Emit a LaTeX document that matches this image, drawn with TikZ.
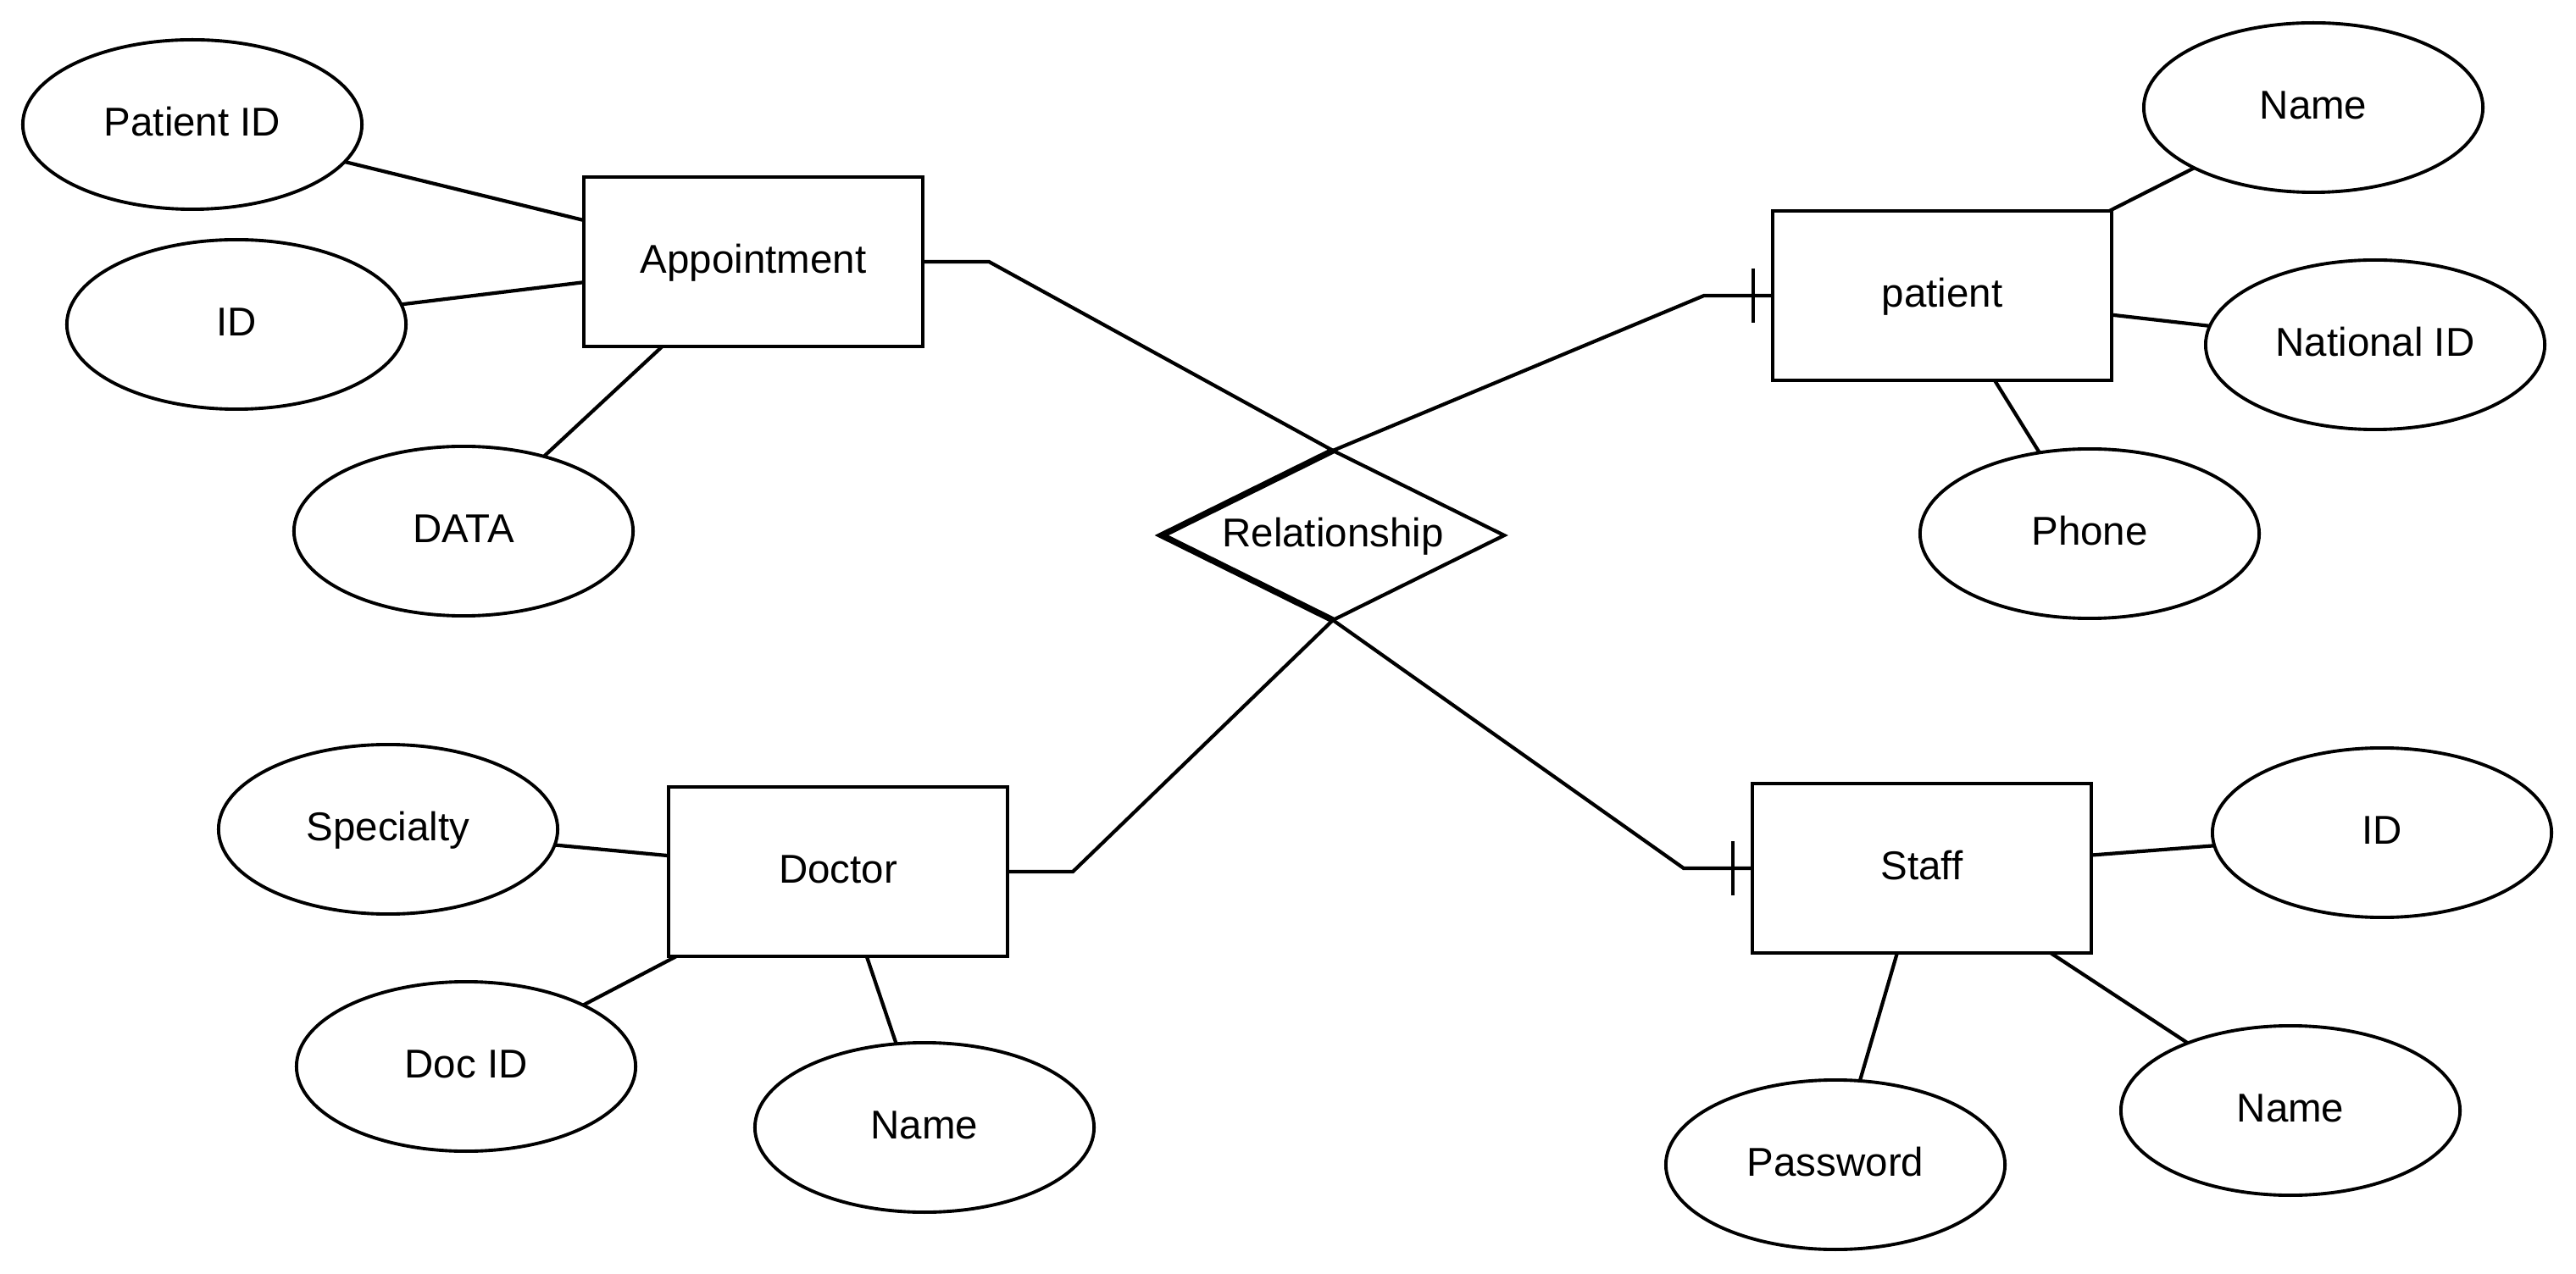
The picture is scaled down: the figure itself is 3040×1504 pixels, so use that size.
\documentclass[tikz,border=0pt]{standalone}
\usepackage{fontspec}
\setmainfont{Liberation Sans}
\usetikzlibrary{shapes.geometric,calc}
\begin{document}
\begin{tikzpicture}[x=0.01cm,y=-0.01cm,
  every node/.style={font=\fontsize{13.5}{16}\selectfont, text height=9.7pt, text depth=2.3pt, inner sep=0pt, outer sep=0pt, line width=1.25pt},
  ent/.style={draw, rectangle, minimum width=4cm, minimum height=2cm},
  attr/.style={draw, ellipse, minimum width=4cm, minimum height=2cm, line width=1.1pt},
  relbox/.style={rectangle, minimum width=4.04cm, minimum height=2cm},
  lnk/.style={line width=1.2pt},
  boldedge/.style={line width=2.1pt}]
\fill[white] (0,0) rectangle (3040,1504);
\useasboundingbox (0,0) rectangle (3040,1504);

% entities
\node[ent] (app) at (889,309) {Appointment};
\node[ent] (pat) at (2292,349) {patient};
\node[ent] (doc) at (989,1029) {Doctor};
\node[ent] (stf) at (2268,1025) {Staff};
\node[relbox] (rel) at (1573,632) {Relationship};
\draw[lnk] (rel.north) -- (rel.east) -- (rel.south) -- (rel.west) -- cycle;

% attributes
\node[attr] (pid) at (227,147) {Patient ID};
\node[attr] (aid) at (279,383) {ID};
\node[attr] (dat) at (547,627) {DATA};
\node[attr] (pname) at (2730,127) {Name};
\node[attr] (nid) at (2803,407) {National ID};
\node[attr] (pho) at (2466,630) {Phone};
\node[attr] (spe) at (458,979) {Specialty};
\node[attr] (did) at (550,1259) {Doc ID};
\node[attr] (dname) at (1091,1331) {Name};
\node[attr] (sid) at (2811,983) {ID};
\node[attr] (sname) at (2703,1311) {Name};
\node[attr] (pwd) at (2166,1375) {Password};

% attribute links
\draw[lnk] (pid) -- (app);
\draw[lnk] (aid) -- (app);
\draw[lnk] (dat) -- (app);
\draw[lnk] (pname) -- (pat);
\draw[lnk] (nid) -- (pat);
\draw[lnk] (pho) -- (pat);
\draw[lnk] (spe) -- (doc);
\draw[lnk] (did) -- (doc);
\draw[lnk] (dname) -- (doc);
\draw[lnk] (sid) -- (stf);
\draw[lnk] (sname) -- (stf);
\draw[lnk] (pwd) -- (stf);

% relationship links
\draw[lnk] (app.east) -- ($(app.east)+(78,0)$) -- (rel.north);
\draw[lnk] (rel.north) -- ($(pat.west)+(-81,0)$) -- (pat.west);
\draw[lnk] ($(pat.west)+(-23,-32)$) -- ($(pat.west)+(-23,32)$);
\draw[lnk] (doc.east) -- ($(doc.east)+(77,0)$) -- (rel.south);
\draw[lnk] (rel.south) -- ($(stf.west)+(-81,0)$) -- (stf.west);
\draw[lnk] ($(stf.west)+(-23,-32)$) -- ($(stf.west)+(-23,32)$);

% thick left edges of the diamond
\draw[boldedge] (rel.north) -- (rel.west) -- (rel.south);
\end{tikzpicture}
\end{document}
